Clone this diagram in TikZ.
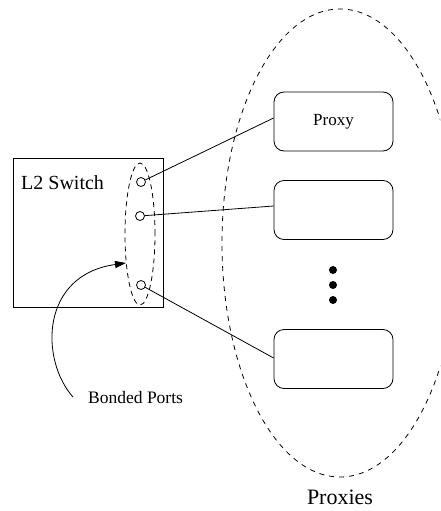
\documentclass[tikz,border=0pt]{standalone}
\usepackage{fontspec}
\setmainfont{Liberation Serif}
\usetikzlibrary{arrows.meta,shapes.geometric}

\tikzset{
  thinline/.style={line width=0.8pt, black},
  switchbox/.style={thinline, draw, minimum width=150pt, minimum height=149pt, inner sep=0pt},
  portcircle/.style={thinline, draw, circle, minimum size=9pt, inner sep=0pt},
  proxybox/.style={thinline, draw, rounded corners=10pt, minimum width=119pt, minimum height=59pt, inner sep=0pt, font=\fontsize{17}{20}\selectfont},
  bonddash/.style={thinline, dash pattern=on 5pt off 4pt},
  groupdash/.style={thinline, dash pattern=on 5pt off 5pt},
  dotnode/.style={circle, fill=black, minimum size=8pt, inner sep=0pt},
  link/.style={thinline},
  pointer/.style={thinline, -{Triangle[length=11pt,width=7pt]}},
}

\begin{document}
\begin{tikzpicture}[x=1pt, y=-1pt]
  \useasboundingbox (0,0) rectangle (440,511);
  \fill[white] (0,0) rectangle (440,511);

  % switch with its ports
  \node[switchbox] (switch) at (88,232.5) {};
  \node[anchor=west, inner sep=0pt, font=\fontsize{20}{24}\selectfont] (swlabel) at (21,183) {L2 Switch};
  \node[portcircle] (p1) at (141,182) {};
  \node[portcircle] (p2) at (140,216) {};
  \node[portcircle] (p3) at (141,285) {};

  % the bonded ports group
  \node[bonddash, draw, ellipse, minimum width=30pt, minimum height=142pt, inner sep=0pt] (bond) at (140,234) {};

  % proxies
  \node[proxybox] (proxy1) at (333.5,121.5) {Proxy};
  \node[proxybox] (proxy2) at (333.5,210) {};
  \node[proxybox] (proxy3) at (333.5,359) {};
  \node[dotnode] (d1) at (333,270) {};
  \node[dotnode] (d2) at (333,285) {};
  \node[dotnode] (d3) at (333,300) {};

  % the proxies group, cut at the right edge
  \begin{scope}
    \clip (0,0) rectangle (440,511);
    \draw[groupdash] (340,243) ellipse [x radius=118, y radius=234];
  \end{scope}
  \node[font=\fontsize{22}{26}\selectfont] (grouplabel) at (340,497) {Proxies};

  % links from ports to proxies
  \draw[link] (p1) -- (proxy1.west |- 0,118);
  \draw[link] (p2) -- (proxy2.west |- 0,206);
  \draw[link] (p3) -- (proxy3.west |- 0,358);

  % label for the bonded ports
  \node[anchor=west, inner sep=0pt, font=\fontsize{17.5}{21}\selectfont] (bondlabel) at (88,398) {Bonded Ports};
  \coordinate (tail) at (73,397);
  \coordinate (tip) at (126,263);
  \draw[pointer] (tail) .. controls (40,360) and (40,275) .. (tip);
\end{tikzpicture}
\end{document}
